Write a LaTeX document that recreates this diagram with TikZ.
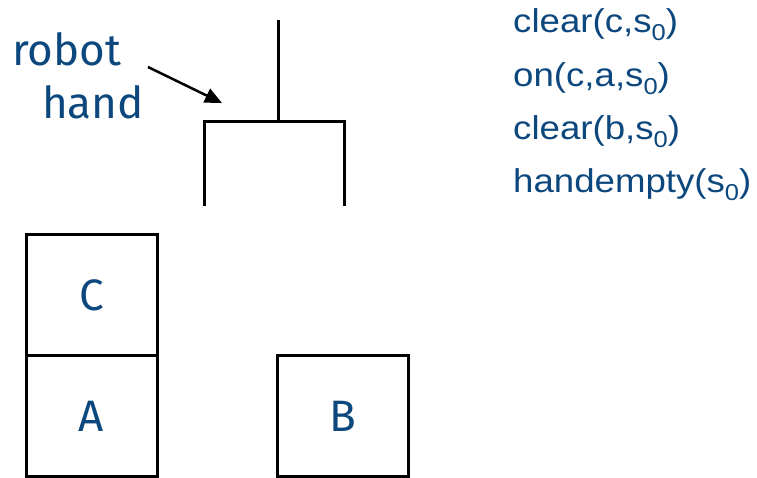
\documentclass[tikz,border=0pt]{standalone}
\usepackage{fontspec}
\setmainfont{Liberation Sans}
\newfontfamily\factfont[FakeStretch=1.11]{Liberation Sans}
\newfontfamily\comicfont{Fira Sans}
\usetikzlibrary{arrows.meta}
\definecolor{txtblue}{RGB}{12,72,125}
\newcommand{\subz}{\raisebox{-8pt}{\fontsize{23}{23}\selectfont 0}}
\tikzset{
  block/.style={draw=black, line width=3pt, minimum width=131pt, minimum height=121pt, inner sep=0pt,
    text=txtblue, font=\comicfont\fontsize{44}{44}\selectfont},
  handline/.style={line width=3pt, line join=miter},
  pointer/.style={line width=2.5pt, -{Triangle[length=17pt,width=15pt]}},
  lbl/.style={text=txtblue, font=\comicfont\fontsize{44}{46}\selectfont, inner sep=0pt, anchor=base west},
  facts/.style={text=txtblue, font=\factfont\fontsize{33}{40}\selectfont, inner sep=0pt, anchor=base west}
}
\begin{document}
\begin{tikzpicture}[x=1pt,y=-1pt]
\useasboundingbox (0,0) rectangle (757,478);
% blocks
\node[block] (C) at (91.5,295) {C};
\node[block] (A) at (91.5,416) {A};
\node[block] (B) at (343,416) {B};
% robot hand
\coordinate (stemtop) at (278,20);
\coordinate (stembot) at (278,122);
\coordinate (lt) at (204,122);
\coordinate (rt) at (344,122);
\coordinate (lb) at (204,206);
\coordinate (rb) at (344,206);
\draw[handline] (stemtop) -- (stembot);
\draw[handline] (lb) -- (lt) -- (rt) -- (rb);
% label
\node[lbl] (robot) at (12,66) {robot};
\node[lbl] (hand) at (42,119) {hand};
\coordinate (tail) at (148,67);
\coordinate (tip) at (222,103);
\draw[pointer] (tail) -- (tip);
% facts
\node[facts] (f1) at (513,33) {clear(c,s\subz)};
\node[facts] (f2) at (513,86.3) {on(c,a,s\subz)};
\node[facts] (f3) at (513,139.6) {clear(b,s\subz)};
\node[facts] (f4) at (513,193) {handempty(s\subz)};
\end{tikzpicture}
\end{document}
